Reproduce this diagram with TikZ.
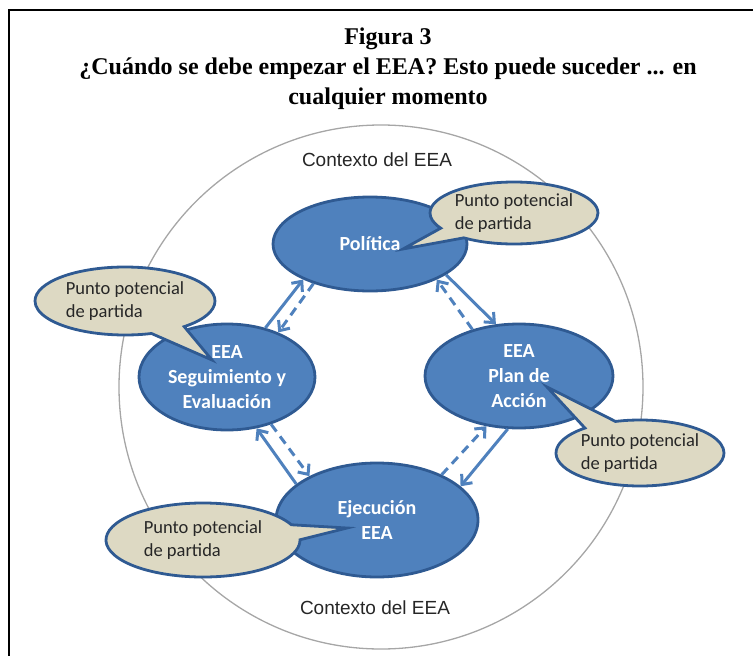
\documentclass[tikz,border=0pt]{standalone}
\usepackage{fontspec}
\setmainfont{Liberation Serif}
\newfontfamily\calib{Carlito}
\newfontfamily\arialf{Liberation Sans}
\usetikzlibrary{shapes.geometric,shapes.callouts,arrows.meta}
\definecolor{boxblue}{HTML}{4F81BD}
\definecolor{boxborder}{HTML}{2F5A92}
\definecolor{arrowblue}{HTML}{4F81BD}
\definecolor{beige}{HTML}{DDD9C3}
\definecolor{ringgray}{HTML}{A6A6A6}
\tikzset{
  stage/.style={ellipse, fill=boxblue, draw=boxborder, line width=2.8pt, text=white,
    font=\calib\bfseries\fontsize{20}{25}\selectfont, align=center, inner sep=0pt},
  bubble/.style={ellipse callout, fill=beige, draw=boxborder, line width=2.8pt, text=black!85,
    font=\calib\fontsize{18.5}{23}\selectfont, align=left, inner sep=0pt, callout pointer arc=24},
  ctx/.style={font=\arialf\fontsize{19}{22}\selectfont, text=black!85},
  flow/.style={draw=arrowblue, line width=3pt, -{Straight Barb[length=8pt,width=14pt,line width=3pt]}},
  backflow/.style={flow, dash pattern=on 9pt off 6pt},
  frameline/.style={draw=black, line width=2pt}
}
\begin{document}
\begin{tikzpicture}[x=1pt,y=-1pt]
\useasboundingbox (0,0) rectangle (753,656);
% frame
\coordinate (f1) at (9,656);
\coordinate (f2) at (9,10);
\coordinate (f3) at (753,10);
\draw[frameline] (f1) -- (f2) -- (f3);
% title
\node[font=\bfseries\fontsize{24}{30}\selectfont, align=center] (title) at (388,69)
  {Figura 3\\¿Cuándo se debe empezar el EEA? Esto puede suceder ... en\\cualquier momento};
% context circle
\node[circle, draw=ringgray, line width=1.3pt, minimum size=524pt, inner sep=0pt] (ring) at (381,387) {};
\node[ctx] (ctxtop) at (377,160) {Contexto del EEA};
\node[ctx] (ctxbot) at (375,608) {Contexto del EEA};
% stages
\node[stage, minimum width=194pt, minimum height=94pt] (pol) at (370,244) {Política};
\node[stage, minimum width=176pt, minimum height=106pt] (seg) at (227,377) {EEA\\Seguimiento y\\Evaluación};
\node[stage, minimum width=188pt, minimum height=104pt] (plan) at (519,376) {EEA\\Plan de\\Acción};
\node[stage, minimum width=202pt, minimum height=114pt] (eje) at (377,520) {Ejecución\\EEA};
% arrows
\draw[flow] (seg.52) -- (pol.208);
\draw[backflow] (pol.215) -- (seg.41);
\draw[flow] (pol.338) -- (plan.114);
\draw[backflow] (plan.135) -- (pol.332);
\draw[flow] (plan.258) -- (eje.22);
\draw[backflow] (eje.35) -- (plan.237);
\draw[flow] (eje.156) -- (seg.300);
\draw[backflow] (seg.313) -- (eje.147);
% callouts
\node[bubble, minimum width=168pt, minimum height=62pt, callout absolute pointer={(403,249)}] (b1) at (514,213) {Punto potencial\\de partida};
\node[bubble, minimum width=180pt, minimum height=68pt, callout absolute pointer={(212,360)}] (b2) at (125,301) {Punto potencial\\de partida};
\node[bubble, minimum width=168pt, minimum height=66pt, callout absolute pointer={(547,387)}] (b3) at (640,453) {Punto potencial\\de partida};
\node[bubble, minimum width=194pt, minimum height=74pt, callout absolute pointer={(347,528)}] (b4) at (203,540) {Punto potencial\\de partida};
\end{tikzpicture}
\end{document}
